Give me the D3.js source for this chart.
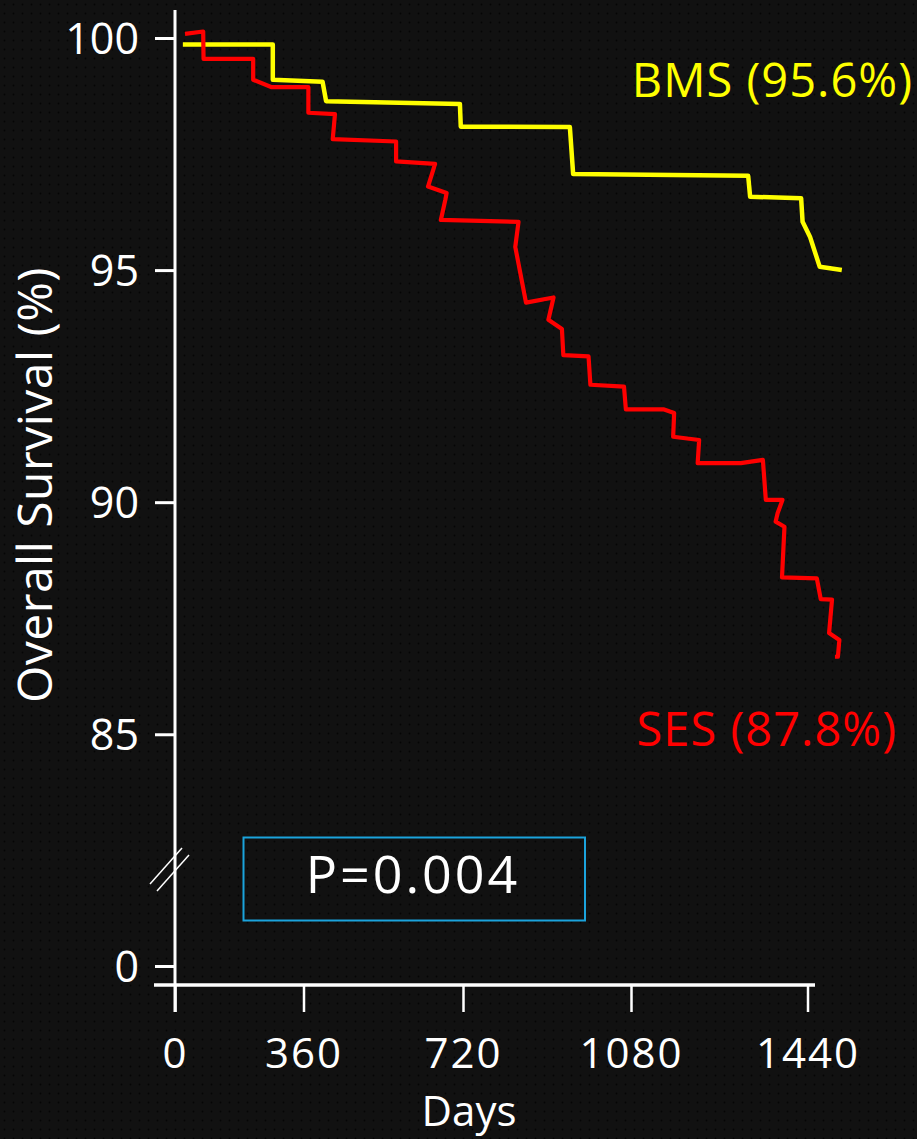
<!DOCTYPE html>
<html>
<head>
<meta charset="utf-8">
<script src="https://cdn.jsdelivr.net/npm/d3@7"></script>
<style>
  html, body { margin: 0; padding: 0; background: #111111; }
  svg { display: block; }
</style>
</head>
<body>
<script>
// survival data (days, %)
var bmsDays = [22, 274, 274, 403, 411, 713, 715, 949, 956, 1319, 1323, 1427, 1430, 1445, 1465, 1510];
var bmsSurv = [99.86, 99.86, 99.10, 99.06, 98.64, 98.58, 98.09, 98.08, 97.07, 97.03, 96.58, 96.55, 96.04, 95.72, 95.07, 95.00];

var sesDays = [28, 79, 80, 219, 219, 271, 371, 371, 431, 426, 569, 569, 657, 641, 683, 680, 670, 839, 832, 855, 914, 903, 932, 935, 989, 993, 1065, 1069, 1146, 1168, 1166, 1219, 1216, 1304, 1349, 1355, 1389, 1379, 1375, 1393, 1388, 1459, 1467, 1490, 1484, 1505, 1502, 1496];
var sesSurv = [100.09, 100.14, 99.55, 99.55, 99.10, 98.94, 98.94, 98.39, 98.36, 97.82, 97.77, 97.34, 97.29, 96.80, 96.66, 96.51, 96.08, 96.04, 95.50, 94.30, 94.41, 93.93, 93.73, 93.17, 93.14, 92.53, 92.49, 92.00, 92.00, 91.92, 91.41, 91.34, 90.84, 90.84, 90.91, 90.05, 90.05, 89.76, 89.58, 89.47, 88.38, 88.36, 87.91, 87.90, 87.18, 87.03, 86.67, 86.67];

var xTicks = [0, 360, 720, 1080, 1440];
var yTicks = [0, 85, 90, 95, 100];

var seriesNames = ["BMS (95.6%)", "SES (87.8%)"];
var pText = "P=0.004";

var width = 917, height = 1139;
var font = "'Open Sans', 'DejaVu Sans', sans-serif";

var svg = d3.select("body").append("svg")
  .attr("width", width)
  .attr("height", height);

// dotted backdrop
var defs = svg.append("defs");
var pat = defs.append("pattern")
  .attr("id", "dots")
  .attr("width", 9)
  .attr("height", 9)
  .attr("patternUnits", "userSpaceOnUse");
pat.append("rect").attr("width", 9).attr("height", 9).attr("fill", "#111111");
pat.append("circle").attr("cx", 4.5).attr("cy", 4.5).attr("r", 1).attr("fill", "#050505");

svg.append("rect")
  .attr("width", width)
  .attr("height", height)
  .attr("fill", "url(#dots)");

// the x axis in the original is not evenly spaced
var x = d3.scaleLinear()
  .domain(xTicks)
  .range([175, 303.5, 463, 631, 807.5]);

// broken y axis: 0 sits below the break
var y = d3.scaleLinear()
  .domain([0, 83, 100])
  .range([966, 827.1, 38]);

var axisY0 = 985;

// y axis
var gy = svg.append("g")
  .attr("transform", "translate(175,0)")
  .call(d3.axisLeft(y).tickValues(yTicks).tickSize(20).tickSizeOuter(0).tickPadding(16));
gy.select(".domain").remove();
gy.selectAll(".tick line").attr("stroke", "white").attr("stroke-width", 3);
gy.selectAll(".tick text")
  .attr("fill", "white")
  .attr("font-family", font)
  .attr("font-size", "43px")
  .attr("dy", "0.36em");

svg.append("line")
  .attr("x1", 175).attr("x2", 175)
  .attr("y1", 10).attr("y2", 1012)
  .attr("stroke", "white").attr("stroke-width", 3);

// x axis
var gx = svg.append("g")
  .attr("transform", "translate(0," + axisY0 + ")")
  .call(d3.axisBottom(x).tickValues(xTicks).tickFormat(d3.format("d"))
    .tickSize(27).tickSizeOuter(0).tickPadding(26));
gx.select(".domain").remove();
gx.selectAll(".tick line").attr("stroke", "white").attr("stroke-width", 2.5);
gx.selectAll(".tick text")
  .attr("fill", "white")
  .attr("font-family", font)
  .attr("font-size", "42px")
  .attr("letter-spacing", "2px");

svg.append("line")
  .attr("x1", 154).attr("x2", 815)
  .attr("y1", axisY0).attr("y2", axisY0)
  .attr("stroke", "white").attr("stroke-width", 3.5);

// break marks
svg.append("line")
  .attr("x1", 150).attr("y1", 884).attr("x2", 182).attr("y2", 848)
  .attr("stroke", "white").attr("stroke-width", 1.5);
svg.append("line")
  .attr("x1", 157).attr("y1", 891).attr("x2", 189).attr("y2", 855)
  .attr("stroke", "white").attr("stroke-width", 1.5);

// axis titles
svg.append("text")
  .attr("transform", "translate(52,485) rotate(-90)")
  .attr("text-anchor", "middle")
  .attr("fill", "white")
  .attr("font-family", font)
  .attr("font-size", "48px")
  .attr("letter-spacing", "0.5px")
  .text("Overall Survival (%)");

svg.append("text")
  .attr("x", 469)
  .attr("y", 1126)
  .attr("text-anchor", "middle")
  .attr("fill", "white")
  .attr("font-family", font)
  .attr("font-size", "42px")
  .text("Days");

// curves
var line = d3.line()
  .x(function(d) { return x(d[0]); })
  .y(function(d) { return y(d[1]); });

var bms = bmsDays.map(function(d, i) { return [d, bmsSurv[i]]; });
var ses = sesDays.map(function(d, i) { return [d, sesSurv[i]]; });

svg.append("path")
  .datum(bms)
  .attr("d", line)
  .attr("fill", "none")
  .attr("stroke", "#ffff00")
  .attr("stroke-width", 4.5)
  .attr("stroke-linejoin", "round");

svg.append("path")
  .datum(ses)
  .attr("d", line)
  .attr("fill", "none")
  .attr("stroke", "#ff0000")
  .attr("stroke-width", 4.2)
  .attr("stroke-linejoin", "round");

// series labels
svg.append("text")
  .attr("x", 913)
  .attr("y", 97)
  .attr("text-anchor", "end")
  .attr("fill", "#ffff00")
  .attr("font-family", font)
  .attr("font-size", "47px")
  .attr("letter-spacing", "1px")
  .text(seriesNames[0]);

svg.append("text")
  .attr("x", 897)
  .attr("y", 746)
  .attr("text-anchor", "end")
  .attr("fill", "#ff0000")
  .attr("font-family", font)
  .attr("font-size", "47px")
  .attr("letter-spacing", "1px")
  .text(seriesNames[1]);

// p value box
svg.append("rect")
  .attr("x", 243.5)
  .attr("y", 837.5)
  .attr("width", 341.5)
  .attr("height", 83)
  .attr("fill", "none")
  .attr("stroke", "#1ba3dc")
  .attr("stroke-width", 2);

svg.append("text")
  .attr("x", 413)
  .attr("y", 893)
  .attr("text-anchor", "middle")
  .attr("fill", "white")
  .attr("font-family", font)
  .attr("font-size", "52px")
  .attr("letter-spacing", "3px")
  .text(pText);
</script>
</body>
</html>
